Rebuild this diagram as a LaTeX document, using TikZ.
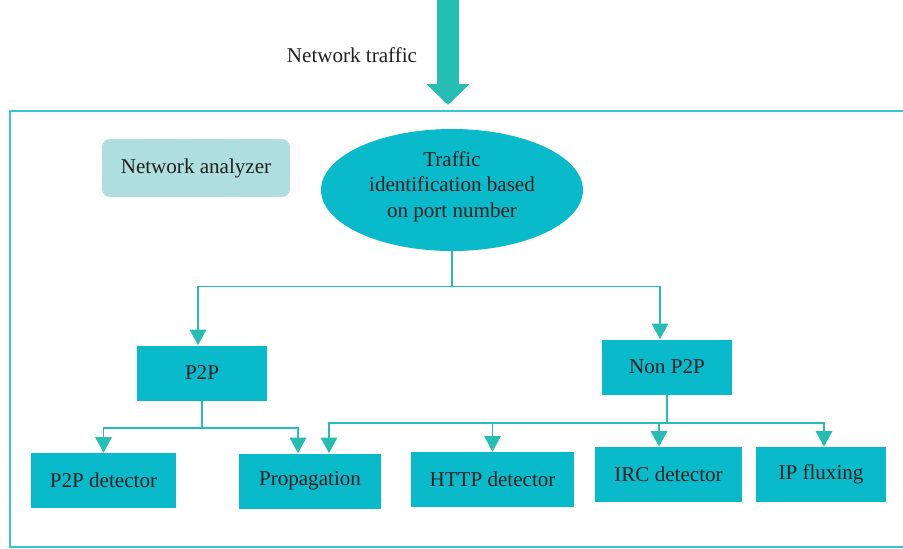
\documentclass[tikz,border=0pt]{standalone}
\usepackage{fontspec}
\setmainfont{Liberation Serif}
\usepackage{xcolor}
\usepackage{tikz}
\usetikzlibrary{shapes.geometric,arrows.meta,positioning}
\definecolor{boxcyan}{RGB}{8,186,202}
\definecolor{linkteal}{RGB}{38,190,178}
\definecolor{framecyan}{RGB}{58,196,206}
\definecolor{analyzerbg}{RGB}{174,222,224}
\definecolor{inktext}{RGB}{35,31,32}

\begin{document}
\begin{tikzpicture}[
    x=0.02cm, y=-0.02cm,
    every node/.style={text=inktext, font=\fontsize{12}{14.5}\selectfont},
    box/.style={fill=boxcyan, minimum height=1.1cm, align=center, inner sep=2pt},
    link/.style={linkteal, line width=0.8pt, -{Triangle[length=3.1mm, width=3.3mm]}},
    bigarrow/.style={linkteal, line width=0.44cm, -{Triangle[length=0.42cm, width=0.84cm]}}
]
\useasboundingbox (0,0) rectangle (903,548);
\draw[framecyan, line width=1.1pt] (903,111) -- (10,111) -- (10,547) -- (903,547);

\coordinate (trafficsrc) at (448,0);
\coordinate (trafficdst) at (448,105);
\draw[bigarrow] (trafficsrc) -- (trafficdst);
\node (traffic) at (352,55) {Network traffic};

\node[fill=analyzerbg, rounded corners=0.16cm, minimum width=3.76cm, minimum height=1.16cm] (analyzer) at (196,168) {Network analyzer};
\node[ellipse, fill=boxcyan, minimum width=5.24cm, minimum height=2.44cm, align=center, inner sep=0pt] (ident) at (452,190) {Traffic\\identification based\\on port number\\[-8pt]\mbox{}};
\node[box, minimum width=2.6cm] (p2p) at (202,373) {P2P};
\node[box, minimum width=2.62cm] (nonp2p) at (667,367) {Non P2P};
\node[box, minimum width=2.9cm] (p2pdet) at (103.5,480.5) {P2P detector};
\node[box, minimum width=2.84cm] (prop) at (310,481) {Propagation};
\node[box, minimum width=3.26cm] (httpdet) at (492.5,479.5) {HTTP detector};
\node[box, minimum width=2.94cm] (ircdet) at (668.5,474.5) {IRC detector};
\node[box, minimum width=2.6cm] (ipflux) at (821,474.5) {IP fluxing};

\draw[link] (ident.south) -- ++(0,35) -| ([xshift=-0.08cm]p2p.north);
\draw[link] (ident.south) -- ++(0,35) -| ([xshift=-0.14cm]nonp2p.north);
\draw[link] (p2p.south) -- ++(0,27) -| (p2pdet.north);
\draw[link] (p2p.south) -- ++(0,27) -| ([xshift=-0.24cm]prop.north);
\draw[link] (nonp2p.south) -- ++(0,28) -| ([xshift=0.38cm]prop.north);
\draw[link] (nonp2p.south) -- ++(0,28) -| (httpdet.north);
\draw[link] (nonp2p.south) -- ++(0,28) -| ([xshift=-0.19cm]ircdet.north);
\draw[link] (nonp2p.south) -- ++(0,28) -| ([xshift=0.06cm]ipflux.north);
\end{tikzpicture}
\end{document}
